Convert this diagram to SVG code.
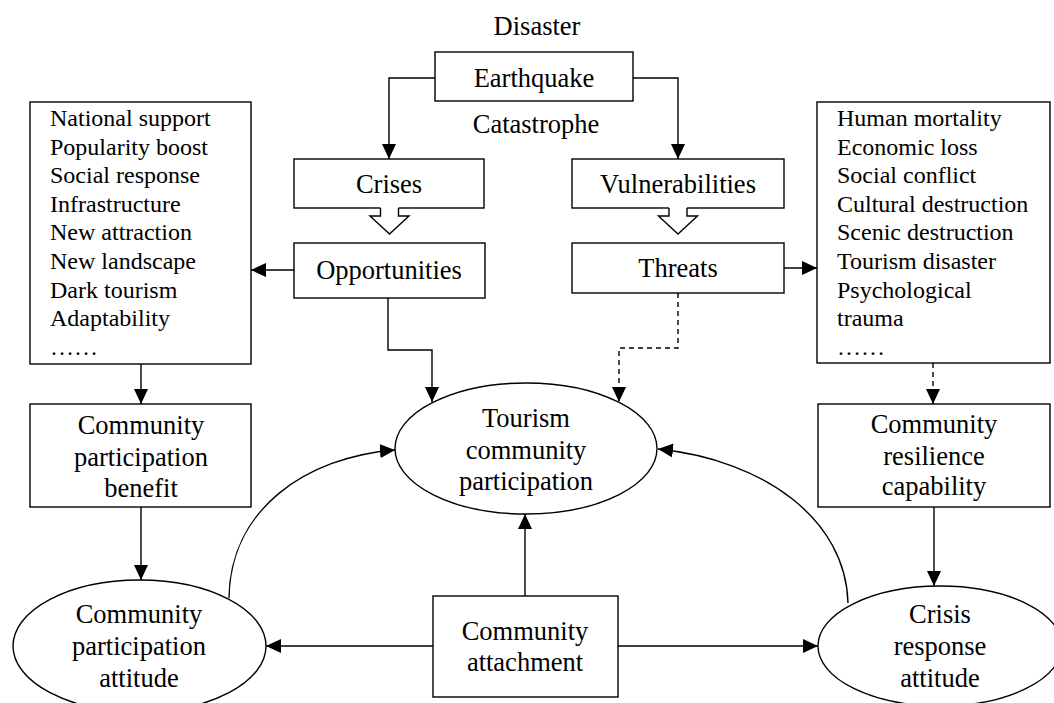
<svg xmlns="http://www.w3.org/2000/svg" width="1054" height="703" viewBox="0 0 1054 703">
<style>
  text { font-family: "Liberation Serif", "Times New Roman", serif; fill: #000; }
  .t { font-size: 26.5px; text-anchor: middle; }
  .l { font-size: 24px; }
  .box { fill: #fff; stroke: #000; stroke-width: 1.4; }
  .c { fill: none; stroke: #000; stroke-width: 1.4; }
  .d { stroke-dasharray: 5 4; }
</style>
<defs>
  <marker id="ah" markerUnits="userSpaceOnUse" markerWidth="16" markerHeight="14" refX="15" refY="7" orient="auto">
    <path d="M0,0 L15,7 L0,14 z" fill="#000"/>
  </marker>
</defs>
<rect width="1054" height="703" fill="#fff"/>

<g id="connectors">
  <path class="c" d="M435,78 H389 V159" marker-end="url(#ah)"/>
  <path class="c" d="M633,78 H678 V159" marker-end="url(#ah)"/>
  <path class="c" d="M294,270 H251" marker-end="url(#ah)"/>
  <path class="c" d="M784,268 H817" marker-end="url(#ah)"/>
  <path class="c" d="M388,298 V350 H432 V402" marker-end="url(#ah)"/>
  <path class="c d" d="M678,293 V348 H619 V402" marker-end="url(#ah)"/>
  <path class="c" d="M141,364 V404" marker-end="url(#ah)"/>
  <path class="c" d="M141,507 V580" marker-end="url(#ah)"/>
  <path class="c d" d="M933,363 V404" marker-end="url(#ah)"/>
  <path class="c" d="M934,507 V586" marker-end="url(#ah)"/>
  <path class="c" d="M525,596 V514" marker-end="url(#ah)"/>
  <path class="c" d="M433,646 H266" marker-end="url(#ah)"/>
  <path class="c" d="M618,646 H818" marker-end="url(#ah)"/>
  <path class="c" d="M229,598 C230,510 305,457 395,450" marker-end="url(#ah)"/>
  <path class="c" d="M848,603 C846,520 765,460 658,449" marker-end="url(#ah)"/>
</g>

<g id="disaster"><text class="t" x="537" y="35">Disaster</text></g>
<g id="earthquake">
  <rect class="box" x="435" y="52" width="198" height="49"/>
  <text class="t" x="534" y="87">Earthquake</text>
</g>
<g id="catastrophe"><text class="t" x="536" y="133">Catastrophe</text></g>

<g id="crises">
  <rect class="box" x="294" y="159" width="190" height="49"/>
  <text class="t" x="389" y="193">Crises</text>
</g>
<g id="hollow-left">
  <path d="M380.5,206 V216 H370 L389.5,234 L409,216 H398.5 V206 z" fill="#fff"/>
  <path class="c" d="M380.5,208 V216 H370 L389.5,234 L409,216 H398.5 V208"/>
</g>
<g id="opportunities">
  <rect class="box" x="294" y="243" width="191" height="55"/>
  <text class="t" x="389" y="279">Opportunities</text>
</g>

<g id="vulnerabilities">
  <rect class="box" x="572" y="159" width="212" height="49"/>
  <text class="t" x="678" y="193">Vulnerabilities</text>
</g>
<g id="hollow-right">
  <path d="M669,206 V216 H658.5 L678,234 L697.5,216 H687 V206 z" fill="#fff"/>
  <path class="c" d="M669,208 V216 H658.5 L678,234 L697.5,216 H687 V208"/>
</g>
<g id="threats">
  <rect class="box" x="572" y="243" width="212" height="50"/>
  <text class="t" x="678" y="277">Threats</text>
</g>

<g id="opportunity-list">
  <rect class="box" x="30" y="102" width="221" height="262"/>
  <text class="l" x="50" y="126">National support</text>
  <text class="l" x="50" y="154.6">Popularity boost</text>
  <text class="l" x="50" y="183.2">Social response</text>
  <text class="l" x="50" y="211.8">Infrastructure</text>
  <text class="l" x="50" y="240.4">New attraction</text>
  <text class="l" x="50" y="269">New landscape</text>
  <text class="l" x="50" y="297.6">Dark tourism</text>
  <text class="l" x="50" y="326.2">Adaptability</text>
  <text class="l" x="50" y="355">……</text>
</g>

<g id="threat-list">
  <rect class="box" x="817" y="102" width="233" height="261"/>
  <text class="l" x="837" y="126">Human mortality</text>
  <text class="l" x="837" y="154.6">Economic loss</text>
  <text class="l" x="837" y="183.2">Social conflict</text>
  <text class="l" x="837" y="211.8">Cultural destruction</text>
  <text class="l" x="837" y="240.4">Scenic destruction</text>
  <text class="l" x="837" y="269">Tourism disaster</text>
  <text class="l" x="837" y="297.6">Psychological</text>
  <text class="l" x="837" y="326.2">trauma</text>
  <text class="l" x="837" y="355">……</text>
</g>

<g id="cp-benefit">
  <rect class="box" x="30" y="404" width="221" height="103"/>
  <text class="t" x="141" y="434">Community</text>
  <text class="t" x="141" y="466">participation</text>
  <text class="t" x="141" y="497">benefit</text>
</g>

<g id="resilience">
  <rect class="box" x="818" y="404" width="232" height="103"/>
  <text class="t" x="934" y="433">Community</text>
  <text class="t" x="934" y="465">resilience</text>
  <text class="t" x="934" y="495">capability</text>
</g>

<g id="tourism-participation">
  <ellipse class="box" cx="526" cy="448.5" rx="131" ry="65.5"/>
  <text class="t" x="526" y="427">Tourism</text>
  <text class="t" x="526" y="459">community</text>
  <text class="t" x="526" y="490">participation</text>
</g>

<g id="attachment">
  <rect class="box" x="433" y="596" width="185" height="101"/>
  <text class="t" x="525" y="640">Community</text>
  <text class="t" x="525" y="671">attachment</text>
</g>

<g id="cp-attitude">
  <ellipse class="box" cx="139.5" cy="646" rx="126.5" ry="66"/>
  <text class="t" x="139" y="623">Community</text>
  <text class="t" x="139" y="655">participation</text>
  <text class="t" x="139" y="687">attitude</text>
</g>

<g id="crisis-attitude">
  <ellipse class="box" cx="940" cy="646" rx="122" ry="60"/>
  <text class="t" x="940" y="623">Crisis</text>
  <text class="t" x="940" y="655">response</text>
  <text class="t" x="940" y="687">attitude</text>
</g>
</svg>
